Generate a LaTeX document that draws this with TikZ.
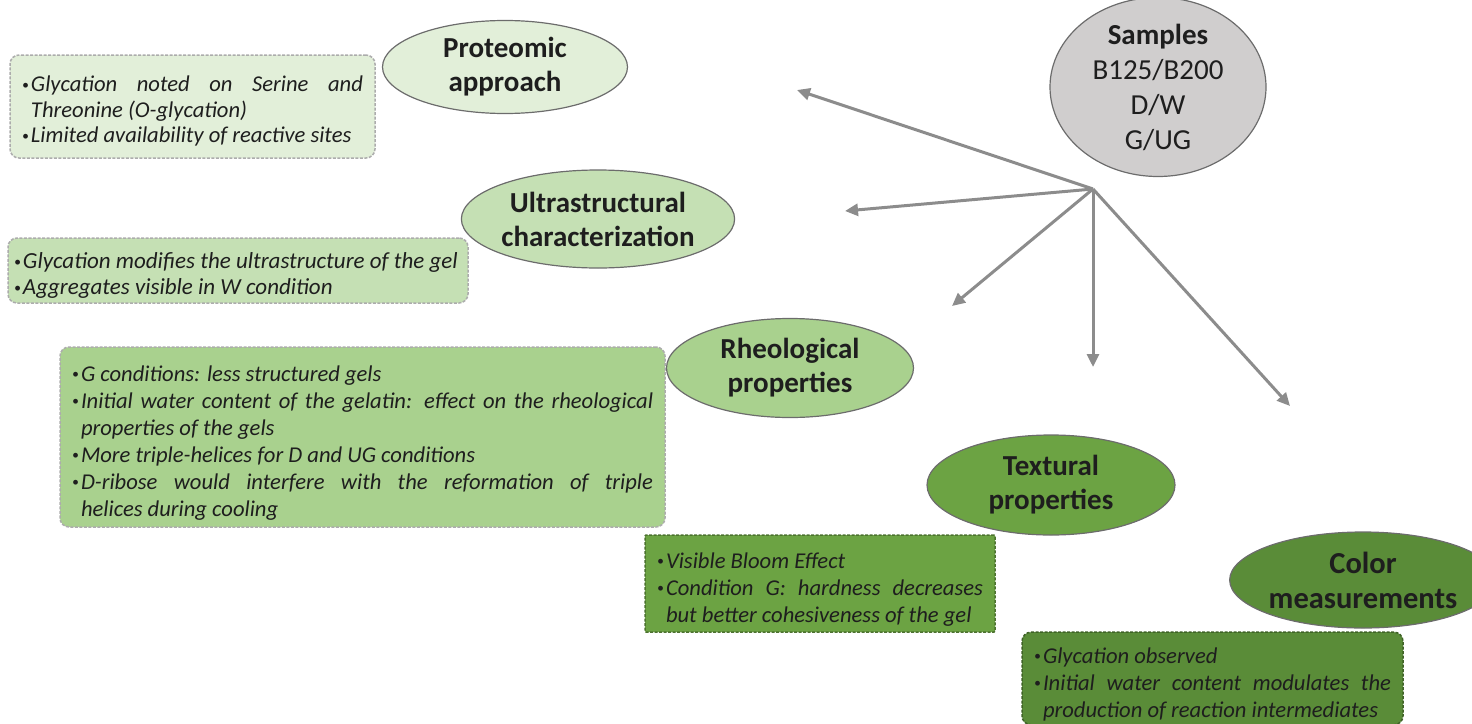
\documentclass[tikz,border=0pt]{standalone}
\usepackage{fontspec}
\usepackage{graphicx}
\setmainfont{Carlito}
\usetikzlibrary{shapes.geometric,arrows.meta}
\definecolor{gA}{HTML}{E2EFD9}
\definecolor{gB}{HTML}{C5E0B4}
\definecolor{gC}{HTML}{A9D18E}
\definecolor{gD}{HTML}{6CA343}
\definecolor{gE}{HTML}{5A8C38}
\definecolor{grayfill}{HTML}{D0CECE}
\definecolor{arrowgray}{HTML}{8C8C8C}
\definecolor{txt}{HTML}{1E1E1E}
\newcommand\bitem{\par\noindent\hangindent=9pt\hangafter=1\makebox[9pt][l]{\raisebox{2.5pt}{\scalebox{0.6}{\textbullet}}}\ignorespaces}
\tikzset{
  topic/.style={ellipse, draw=gray!85!black, line width=1.2pt, inner sep=0pt, align=center, text=txt,
    font=\fontsize{29}{34}\selectfont\bfseries},
  box/.style={draw=gray!65, dash pattern=on 3pt off 1.5pt, line width=1.5pt, rounded corners=9pt,
    inner xsep=12pt, inner ysep=4pt, align=justify, text=txt,
    font=\fontsize{22.6}{25.5}\selectfont\itshape},
  arr/.style={draw=arrowgray, line width=3pt, -{Triangle[length=13pt,width=12pt]}}
}
\begin{document}
\begin{tikzpicture}[x=1pt,y=-1pt]
\useasboundingbox (0,0) rectangle (1472,723);

% topic ellipses
\node[topic, fill=gA, minimum width=245, minimum height=93] (prot) at (505,67) {Proteomic\\approach};
\node[topic, fill=grayfill, minimum width=216, minimum height=156, font=\fontsize{29}{35}\selectfont] (samp) at (1158,87) {\textbf{Samples}\\B125/B200\\D/W\\G/UG};
\node[topic, fill=gB, minimum width=248, minimum height=98] (ultra) at (598,219) {Ultrastructural\\characterization};
\node[topic, fill=gC, minimum width=247, minimum height=99] (rheo) at (790,368) {Rheological\\properties};
\node[topic, fill=gD, minimum width=248, minimum height=100] (textu) at (1051,485) {Textural\\properties};
\node[topic, fill=gE, minimum width=252, minimum height=96, font=\fontsize{30.5}{35}\selectfont\bfseries] (color) at (1363,580) {Color\\measurements};

% result boxes
\node[box, fill=gA, minimum width=365, minimum height=103, text width=341] (b1) at (192.5,106.5)
  {\bitem Glycation noted on Serine and\linebreak Threonine (O-glycation)\bitem Limited availability of reactive sites\par};
\node[box, fill=gB, inner xsep=6pt, minimum width=460, minimum height=65, text width=448,
  font=\fontsize{23}{26}\selectfont\itshape] (b2) at (238,270.5)
  {\bitem Glycation modifies the ultrastructure of the gel\bitem Aggregates visible in W condition\par};
\node[box, fill=gC, minimum width=605, minimum height=180, text width=581,
  font=\fontsize{22.6}{27}\selectfont\itshape] (b3) at (362.5,437)
  {\bitem G conditions: less structured gels\bitem Initial water content of the gelatin: effect on the rheological\linebreak properties of the gels\bitem More triple-helices for D and UG conditions\bitem D-ribose would interfere with the reformation of triple\linebreak helices during cooling\par};
\node[box, fill=gD, draw=gD!70!black, rounded corners=1pt, minimum width=350, minimum height=97, text width=326,
  font=\fontsize{22.6}{27}\selectfont\itshape] (b4) at (820,583.5)
  {\bitem Visible Bloom Effect\bitem Condition G: hardness decreases\linebreak but better cohesiveness of the gel\par};
\node[box, fill=gE, draw=gE!70!black, minimum width=381, minimum height=87, text width=357,
  font=\fontsize{22.6}{27}\selectfont\itshape] (b5) at (1212.5,678.5)
  {\bitem Glycation observed\bitem Initial water content modulates the\linebreak production of reaction intermediates\par};

% arrows from the hub
\coordinate (hub) at (1093,189);
\coordinate (t1) at (797,90);
\coordinate (t2) at (845,211);
\coordinate (t3) at (952,306);
\coordinate (t4) at (1093,367);
\coordinate (t5) at (1290,406);
\draw[arr] (hub) -- (t1);
\draw[arr] (hub) -- (t2);
\draw[arr] (hub) -- (t3);
\draw[arr] (hub) -- (t4);
\draw[arr] (hub) -- (t5);
\end{tikzpicture}
\end{document}
